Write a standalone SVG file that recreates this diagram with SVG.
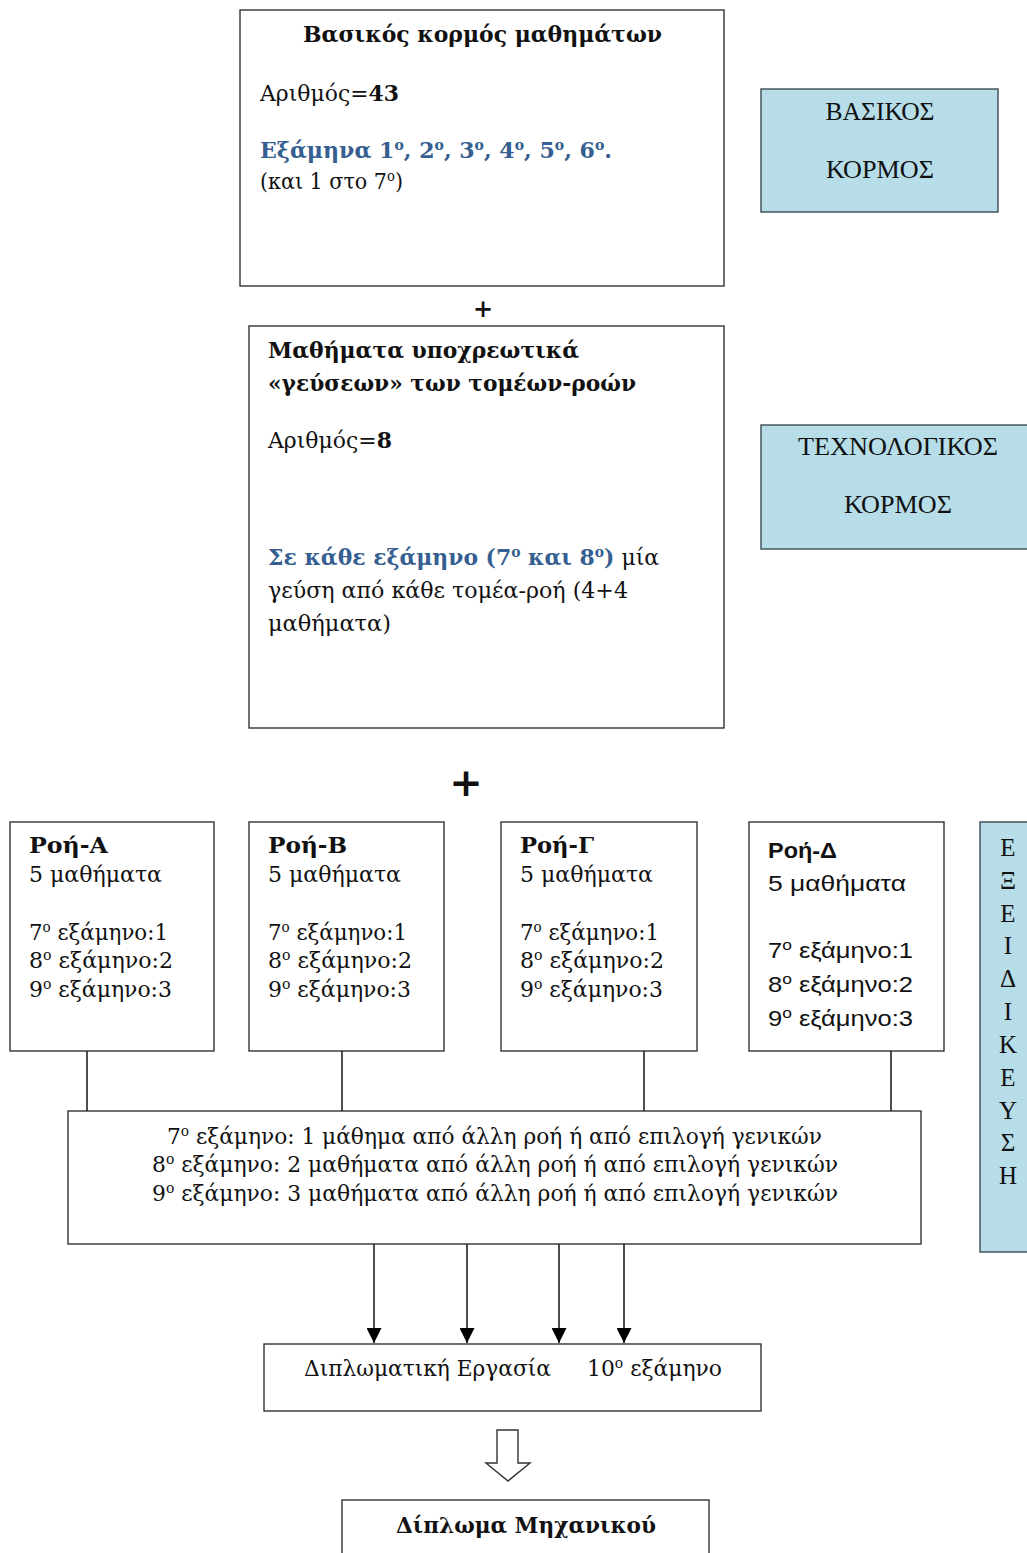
<svg xmlns="http://www.w3.org/2000/svg" width="1027" height="1553" viewBox="0 0 1027 1553">
<defs>
<style>
.box{fill:#fff;stroke:#333;stroke-width:1.4}
.blue{fill:#b7dde8;stroke:#3b4a52;stroke-width:1.4}
.g{font-family:"DejaVu Serif","Liberation Serif",serif;font-size:22px;fill:#111}
.b{font-weight:bold}
.c{fill:#365f91}
.t{font-family:"Liberation Serif","Times New Roman",serif;font-size:25px;fill:#111}
.s{font-family:"Liberation Sans","Noto Sans",sans-serif;font-size:22px;fill:#111}
.ln{stroke:#222;stroke-width:1.6;fill:none}
</style>
<marker id="ah" markerWidth="15" markerHeight="15" refX="15" refY="7.5" orient="auto" markerUnits="userSpaceOnUse" viewBox="0 0 15 15">
<path d="M0,0 L15,7.5 L0,15 Z" fill="#000"/>
</marker>
</defs>
<rect width="1027" height="1553" fill="#fff"/>

<g id="core">
<rect class="box" x="240" y="10" width="484" height="276"/>
<text class="g b" x="303" y="42" textLength="359" lengthAdjust="spacingAndGlyphs">Βασικός κορμός μαθημάτων</text>
<text class="g" x="260" y="101" textLength="139" lengthAdjust="spacingAndGlyphs">Αριθμός=<tspan class="b">43</tspan></text>
<text class="g b c" x="260" y="158" textLength="352" lengthAdjust="spacingAndGlyphs">Εξάμηνα 1<tspan font-size="14" dy="-8">ο</tspan><tspan dy="8">, 2</tspan><tspan font-size="14" dy="-8">ο</tspan><tspan dy="8">, 3</tspan><tspan font-size="14" dy="-8">ο</tspan><tspan dy="8">, 4</tspan><tspan font-size="14" dy="-8">ο</tspan><tspan dy="8">, 5</tspan><tspan font-size="14" dy="-8">ο</tspan><tspan dy="8">, 6</tspan><tspan font-size="14" dy="-8">ο</tspan><tspan dy="8">.</tspan></text>
<text class="g" x="260" y="189" textLength="143" lengthAdjust="spacingAndGlyphs">(και 1 στο 7<tspan font-size="14" dy="-8">ο</tspan><tspan dy="8">)</tspan></text>
</g>

<g id="core-label">
<rect class="blue" x="761" y="89" width="237" height="123"/>
<text class="t" x="880" y="120" text-anchor="middle" textLength="109" lengthAdjust="spacingAndGlyphs">ΒΑΣΙΚΟΣ</text>
<text class="t" x="880" y="178" text-anchor="middle" textLength="108" lengthAdjust="spacingAndGlyphs">ΚΟΡΜΟΣ</text>
</g>

<g id="plus1">
<text class="g b" x="483" y="317" text-anchor="middle" style="font-size:24px">+</text>
</g>

<g id="tastes">
<rect class="box" x="249" y="326" width="475" height="402"/>
<text class="g b" x="268" y="358" textLength="311" lengthAdjust="spacingAndGlyphs">Μαθήματα υποχρεωτικά</text>
<text class="g b" x="268" y="391" textLength="368" lengthAdjust="spacingAndGlyphs">«γεύσεων» των τομέων-ροών</text>
<text class="g" x="268" y="448" textLength="124" lengthAdjust="spacingAndGlyphs">Αριθμός=<tspan class="b">8</tspan></text>
<text class="g" x="268" y="565" textLength="391" lengthAdjust="spacingAndGlyphs"><tspan class="b c">Σε κάθε εξάμηνο (7</tspan><tspan class="b c" font-size="14" dy="-8">ο</tspan><tspan class="b c" dy="8"> και 8</tspan><tspan class="b c" font-size="14" dy="-8">ο</tspan><tspan class="b c" dy="8">)</tspan><tspan> μία</tspan></text>
<text class="g" x="268" y="598" textLength="360" lengthAdjust="spacingAndGlyphs">γεύση από κάθε τομέα-ροή (4+4</text>
<text class="g" x="268" y="631" textLength="123" lengthAdjust="spacingAndGlyphs">μαθήματα)</text>
</g>

<g id="tech-label">
<rect class="blue" x="761" y="425" width="270" height="124"/>
<text class="t" x="898" y="455" text-anchor="middle" textLength="200" lengthAdjust="spacingAndGlyphs">ΤΕΧΝΟΛΟΓΙΚΟΣ</text>
<text class="t" x="898" y="513" text-anchor="middle" textLength="108" lengthAdjust="spacingAndGlyphs">ΚΟΡΜΟΣ</text>
</g>

<g id="plus2">
<text class="g b" x="466" y="796" text-anchor="middle" style="font-size:40px">+</text>
</g>

<g id="flowA">
<rect class="box" x="10" y="822" width="204" height="229"/>
<text class="g b" x="29" y="853" textLength="79" lengthAdjust="spacingAndGlyphs">Ροή-Α</text>
<text class="g" x="29" y="882" textLength="133" lengthAdjust="spacingAndGlyphs">5 μαθήματα</text>
<text class="g" x="29" y="940" textLength="139" lengthAdjust="spacingAndGlyphs">7<tspan font-size="14" dy="-8">ο</tspan><tspan dy="8"> εξάμηνο:1</tspan></text>
<text class="g" x="29" y="968" textLength="144" lengthAdjust="spacingAndGlyphs">8<tspan font-size="14" dy="-8">ο</tspan><tspan dy="8"> εξάμηνο:2</tspan></text>
<text class="g" x="29" y="997" textLength="143" lengthAdjust="spacingAndGlyphs">9<tspan font-size="14" dy="-8">ο</tspan><tspan dy="8"> εξάμηνο:3</tspan></text>
</g>

<g id="flowB">
<rect class="box" x="249" y="822" width="195" height="229"/>
<text class="g b" x="268" y="853" textLength="79" lengthAdjust="spacingAndGlyphs">Ροή-Β</text>
<text class="g" x="268" y="882" textLength="133" lengthAdjust="spacingAndGlyphs">5 μαθήματα</text>
<text class="g" x="268" y="940" textLength="139" lengthAdjust="spacingAndGlyphs">7<tspan font-size="14" dy="-8">ο</tspan><tspan dy="8"> εξάμηνο:1</tspan></text>
<text class="g" x="268" y="968" textLength="144" lengthAdjust="spacingAndGlyphs">8<tspan font-size="14" dy="-8">ο</tspan><tspan dy="8"> εξάμηνο:2</tspan></text>
<text class="g" x="268" y="997" textLength="143" lengthAdjust="spacingAndGlyphs">9<tspan font-size="14" dy="-8">ο</tspan><tspan dy="8"> εξάμηνο:3</tspan></text>
</g>

<g id="flowG">
<rect class="box" x="501" y="822" width="196" height="229"/>
<text class="g b" x="520" y="853" textLength="74" lengthAdjust="spacingAndGlyphs">Ροή-Γ</text>
<text class="g" x="520" y="882" textLength="133" lengthAdjust="spacingAndGlyphs">5 μαθήματα</text>
<text class="g" x="520" y="940" textLength="139" lengthAdjust="spacingAndGlyphs">7<tspan font-size="14" dy="-8">ο</tspan><tspan dy="8"> εξάμηνο:1</tspan></text>
<text class="g" x="520" y="968" textLength="144" lengthAdjust="spacingAndGlyphs">8<tspan font-size="14" dy="-8">ο</tspan><tspan dy="8"> εξάμηνο:2</tspan></text>
<text class="g" x="520" y="997" textLength="143" lengthAdjust="spacingAndGlyphs">9<tspan font-size="14" dy="-8">ο</tspan><tspan dy="8"> εξάμηνο:3</tspan></text>
</g>

<g id="flowD">
<rect class="box" x="749" y="822" width="195" height="229"/>
<text class="s b" x="768" y="858" textLength="69" lengthAdjust="spacingAndGlyphs">Ροή-Δ</text>
<text class="s" x="768" y="891" textLength="138" lengthAdjust="spacingAndGlyphs">5 μαθήματα</text>
<text class="s" x="768" y="958" textLength="145" lengthAdjust="spacingAndGlyphs">7<tspan font-size="15" dy="-8">ο</tspan><tspan dy="8"> εξάμηνο:1</tspan></text>
<text class="s" x="768" y="992" textLength="145" lengthAdjust="spacingAndGlyphs">8<tspan font-size="15" dy="-8">ο</tspan><tspan dy="8"> εξάμηνο:2</tspan></text>
<text class="s" x="768" y="1026" textLength="145" lengthAdjust="spacingAndGlyphs">9<tspan font-size="15" dy="-8">ο</tspan><tspan dy="8"> εξάμηνο:3</tspan></text>
</g>

<g id="specialization">
<rect class="blue" x="980" y="822" width="52" height="430"/>
<text class="t" x="1008" y="856" text-anchor="middle">Ε</text>
<text class="t" x="1008" y="889" text-anchor="middle">Ξ</text>
<text class="t" x="1008" y="922" text-anchor="middle">Ε</text>
<text class="t" x="1008" y="954" text-anchor="middle">Ι</text>
<text class="t" x="1008" y="987" text-anchor="middle">Δ</text>
<text class="t" x="1008" y="1020" text-anchor="middle">Ι</text>
<text class="t" x="1008" y="1053" text-anchor="middle">Κ</text>
<text class="t" x="1008" y="1086" text-anchor="middle">Ε</text>
<text class="t" x="1008" y="1119" text-anchor="middle">Υ</text>
<text class="t" x="1008" y="1151" text-anchor="middle">Σ</text>
<text class="t" x="1008" y="1184" text-anchor="middle">Η</text>
</g>

<g id="electives">
<rect class="box" x="68" y="1111" width="853" height="133"/>
<text class="g" x="167" y="1144" textLength="655" lengthAdjust="spacingAndGlyphs">7<tspan font-size="14" dy="-8">ο</tspan><tspan dy="8"> εξάμηνο: 1 μάθημα από άλλη ροή ή από επιλογή γενικών</tspan></text>
<text class="g" x="152" y="1172" textLength="686" lengthAdjust="spacingAndGlyphs">8<tspan font-size="14" dy="-8">ο</tspan><tspan dy="8"> εξάμηνο: 2 μαθήματα από άλλη ροή ή από επιλογή γενικών</tspan></text>
<text class="g" x="152" y="1201" textLength="686" lengthAdjust="spacingAndGlyphs">9<tspan font-size="14" dy="-8">ο</tspan><tspan dy="8"> εξάμηνο: 3 μαθήματα από άλλη ροή ή από επιλογή γενικών</tspan></text>
</g>

<g id="thesis">
<rect class="box" x="264" y="1344" width="497" height="67"/>
<text class="g" x="304" y="1376" textLength="247" lengthAdjust="spacingAndGlyphs">Διπλωματική Εργασία</text>
<text class="g" x="587" y="1376" textLength="135" lengthAdjust="spacingAndGlyphs">10<tspan font-size="14" dy="-8">ο</tspan><tspan dy="8"> εξάμηνο</tspan></text>
</g>

<g id="diploma">
<rect class="box" x="342" y="1500" width="367" height="60"/>
<text class="g b" x="396" y="1533" textLength="260" lengthAdjust="spacingAndGlyphs">Δίπλωμα Μηχανικού</text>
</g>

<g id="connectors">
<line class="ln" x1="87" y1="1051" x2="87" y2="1111"/>
<line class="ln" x1="342" y1="1051" x2="342" y2="1111"/>
<line class="ln" x1="644" y1="1051" x2="644" y2="1111"/>
<line class="ln" x1="891" y1="1051" x2="891" y2="1111"/>
<line class="ln" x1="374" y1="1244" x2="374" y2="1343" marker-end="url(#ah)"/>
<line class="ln" x1="467" y1="1244" x2="467" y2="1343" marker-end="url(#ah)"/>
<line class="ln" x1="559" y1="1244" x2="559" y2="1343" marker-end="url(#ah)"/>
<line class="ln" x1="624" y1="1244" x2="624" y2="1343" marker-end="url(#ah)"/>
<path d="M497,1430 L518,1430 L518,1463 L530,1463 L508,1481 L486,1463 L497,1463 Z" fill="#fff" stroke="#333" stroke-width="1.4"/>
</g>
</svg>
